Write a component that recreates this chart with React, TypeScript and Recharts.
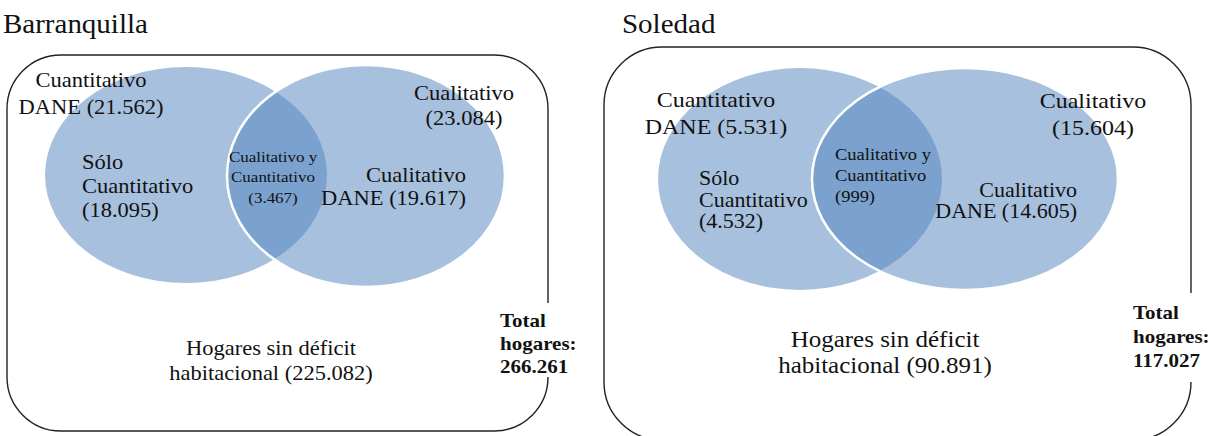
import { ScatterChart, Scatter, XAxis, YAxis, ReferenceArea } from 'recharts';

document.body.style.margin = '0';

const W = 1215;
const H = 436;

// hogares por tipo de déficit
const ciudades = ['Barranquilla', 'Soledad'];
const cuantitativoDane = [21562, 5531];
const soloCuantitativo = [18095, 4532];
const cualitativoYCuantitativo = [3467, 999];
const cualitativo = [23084, 15604];
const cualitativoDane = [19617, 14605];
const sinDeficit = [225082, 90891];
const totalHogares = [266261, 117027];

const fmt = (n: number) => String(n).replace(/\B(?=(\d{3})+(?!\d))/g, '.');

// layout of each panel (pixels in chart space)
const paneles = [
  {
    titulo: { x: 3, y: 33 },
    caja: { x1: 7, x2: 548, y1: 55, y2: 431, r: 54, gap: 303 },
    circulos: [
      { x: 186, y: 175, rx: 141, ry: 108 },
      { x: 366, y: 176, rx: 139, ry: 111 },
    ],
    etq: {
      cuantDane: { x: 91, ys: [87, 114], anchor: 'middle', size: 22.5 },
      solo: { x: 82, ys: [169, 193, 217], anchor: 'start', size: 22.5 },
      ambos: { x: 273, ys: [162, 182, 203], anchor: 'middle', size: 17 },
      cual: { x: 464, ys: [100, 125], anchor: 'middle', size: 22.5 },
      cualDane: { x: 466, ys: [182, 205], anchor: 'end', size: 22.5 },
      sin: { x: 271, ys: [355, 380], anchor: 'middle', size: 22.5 },
      total: { x: 500, ys: [327, 350, 373], anchor: 'start', size: 21 },
    },
  },
  {
    titulo: { x: 622, y: 33 },
    caja: { x1: 604, x2: 1191, y1: 47, y2: 440, r: 58, gap: 293 },
    circulos: [
      { x: 800, y: 179, rx: 142, ry: 111 },
      { x: 965, y: 179, rx: 153, ry: 111 },
    ],
    etq: {
      cuantDane: { x: 716, ys: [107, 134], anchor: 'middle', size: 24 },
      solo: { x: 699, ys: [185, 207, 228], anchor: 'start', size: 22 },
      ambos: { x: 835, ys: [160, 181, 202], anchor: 'start', size: 18.5 },
      cual: { x: 1093, ys: [108, 135], anchor: 'middle', size: 24 },
      cualDane: { x: 1077, ys: [197, 218], anchor: 'end', size: 22 },
      sin: { x: 885, ys: [347, 373], anchor: 'middle', size: 25 },
      total: { x: 1133, ys: [319, 343, 367], anchor: 'start', size: 21 },
    },
  },
];

const SX = 1.1; // the source figure is stretched sideways a little

const circulos = paneles.flatMap((p) =>
  p.circulos.map((c, j) => ({ ...c, borde: j === 1 }))
);

const etiquetas = paneles.flatMap((p, i) => {
  const e = p.etq;
  return [
    { x: p.titulo.x, y: p.titulo.y, ys: [p.titulo.y], anchor: 'start', size: 29, lines: [ciudades[i]], sx: 1.08 },
    { ...e.cuantDane, y: e.cuantDane.ys[0], lines: ['Cuantitativo', `DANE (${fmt(cuantitativoDane[i])})`] },
    { ...e.solo, y: e.solo.ys[0], lines: ['Sólo', 'Cuantitativo', `(${fmt(soloCuantitativo[i])})`] },
    { ...e.ambos, y: e.ambos.ys[0], lines: ['Cualitativo y', 'Cuantitativo', `(${fmt(cualitativoYCuantitativo[i])})`] },
    { ...e.cual, y: e.cual.ys[0], lines: ['Cualitativo', `(${fmt(cualitativo[i])})`] },
    { ...e.cualDane, y: e.cualDane.ys[0], lines: ['Cualitativo', `DANE (${fmt(cualitativoDane[i])})`] },
    { ...e.sin, y: e.sin.ys[0], lines: ['Hogares sin déficit', `habitacional (${fmt(sinDeficit[i])})`] },
    { ...e.total, y: e.total.ys[0], lines: ['Total', 'hogares:', fmt(totalHogares[i])], bold: true, sx: 1.1 },
  ];
});

const Elipse = (props: any) => {
  const { cx, cy, payload } = props;
  return (
    <ellipse
      cx={cx}
      cy={cy}
      rx={payload.rx}
      ry={payload.ry}
      fill="#4F81BD"
      fillOpacity={0.5}
      stroke={payload.borde ? '#ffffff' : 'none'}
      strokeWidth={2.5}
    />
  );
};

const Etiqueta = (props: any) => {
  const { cx, cy, payload } = props;
  const sx = payload.sx ?? SX;
  return (
    <g>
      {payload.lines.map((t: string, k: number) => (
        <text
          key={k}
          transform={`translate(${cx},${cy + payload.ys[k] - payload.ys[0]}) scale(${sx},1)`}
          textAnchor={payload.anchor}
          style={{ fontFamily: '"Liberation Serif", serif' }}
          fontSize={payload.size / sx}
          fontWeight={payload.bold ? 'bold' : 'normal'}
          fill="#111"
        >
          {t}
        </text>
      ))}
    </g>
  );
};

const cajaShape = (gap: number, r: number) => (props: any) => {
  const { x, y, width, height } = props;
  const x2 = x + width;
  const y2 = y + height;
  const d = [
    `M ${x2} ${y2 - r}`,
    `A ${r} ${r} 0 0 1 ${x2 - r} ${y2}`,
    `H ${x + r}`,
    `A ${r} ${r} 0 0 1 ${x} ${y2 - r}`,
    `V ${y + r}`,
    `A ${r} ${r} 0 0 1 ${x + r} ${y}`,
    `H ${x2 - r}`,
    `A ${r} ${r} 0 0 1 ${x2} ${y + r}`,
    `V ${gap}`,
  ].join(' ');
  return <path d={d} fill="none" stroke="#222" strokeWidth={1.4} />;
};

export default function App() {
  return (
    <div style={{ width: W, height: H, background: '#fff', overflow: 'hidden' }}>
      <ScatterChart width={W} height={H} margin={{ top: 0, right: 0, bottom: 0, left: 0 }} style={{ overflow: 'hidden' }}>
        <XAxis type="number" dataKey="x" domain={[0, W]} hide />
        <YAxis type="number" dataKey="y" domain={[0, H]} reversed hide allowDataOverflow />
        {paneles.map((p, i) => (
          <ReferenceArea
            key={i}
            x1={p.caja.x1}
            x2={p.caja.x2}
            y1={p.caja.y1}
            y2={p.caja.y2}
            ifOverflow="visible"
            shape={cajaShape(p.caja.gap, p.caja.r)}
          />
        ))}
        <Scatter data={circulos} shape={Elipse} isAnimationActive={false} />
        <Scatter data={etiquetas} shape={Etiqueta} isAnimationActive={false} />
      </ScatterChart>
    </div>
  );
}
